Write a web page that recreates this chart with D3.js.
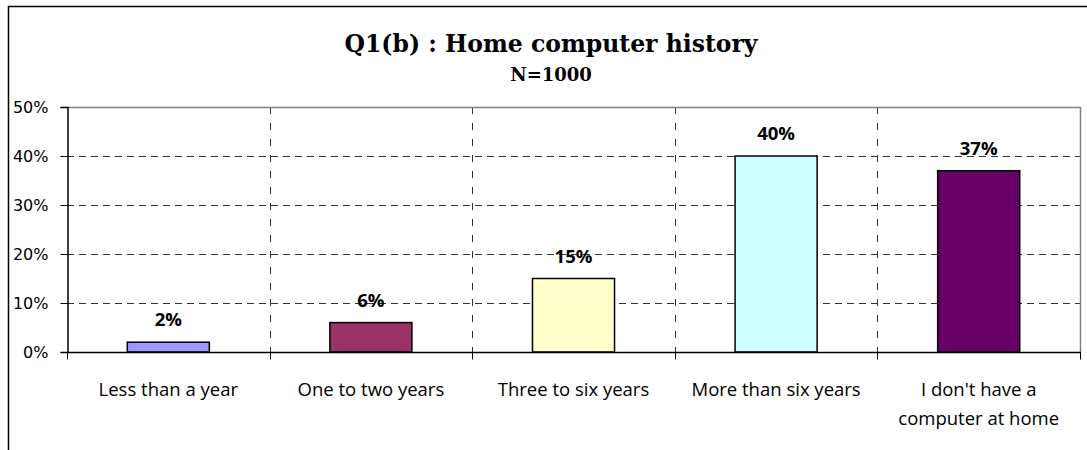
<!DOCTYPE html>
<html>
<head>
<meta charset="utf-8">
<script src="https://cdn.jsdelivr.net/npm/d3@7"></script>
<style>
  body { margin: 0; background: #fff; }
  svg text { fill: #000; }
</style>
</head>
<body>
<div id="chart"></div>
<script>
'use strict'
const categories = [
  ["Less than a year"],
  ["One to two years"],
  ["Three to six years"],
  ["More than six years"],
  ["I don't have a", "computer at home"]
]
const values = [2, 6, 15, 40, 37]
const barColors = ["#9999FF", "#993366", "#FFFFCC", "#CCFFFF", "#660066"]
const yTicks = [0, 10, 20, 30, 40, 50]

const width = 1087, height = 450
const plot = {left: 67, right: 1080, top: 107, bottom: 352}
const sansFont = "'Open Sans', Lato, sans-serif"
const serifFont = "'DejaVu Serif', 'Liberation Serif', serif"

const svg = d3.select("#chart")
  .append("svg")
    .attr("width", width)
    .attr("height", height)

// chart frame
svg.append("rect")
  .attr("x", 8.5).attr("y", 6.5)
  .attr("width", 1100).attr("height", 500)
  .attr("fill", "none").attr("stroke", "#000").attr("stroke-width", 1.5)

const x = d3.scaleBand()
  .domain(d3.range(categories.length))
  .range([plot.left, plot.right])
  .paddingInner(0).paddingOuter(0)
const y = d3.scaleLinear()
  .domain([0, 50])
  .range([plot.bottom, plot.top])

// horizontal grid
svg.append("g")
  .selectAll("line")
  .data(yTicks.filter(d => d > 0 && d < 50))
  .enter()
    .append("line")
    .attr("x1", plot.left).attr("x2", plot.right)
    .attr("y1", d => Math.round(y(d)) + 0.5).attr("y2", d => Math.round(y(d)) + 0.5)
    .attr("stroke", "#333").attr("stroke-dasharray", "7,5")

// vertical grid between categories
svg.append("g")
  .selectAll("line")
  .data(d3.range(1, categories.length))
  .enter()
    .append("line")
    .attr("x1", d => Math.round(x(d)) + 0.5).attr("x2", d => Math.round(x(d)) + 0.5)
    .attr("y1", plot.top).attr("y2", plot.bottom)
    .attr("stroke", "#333").attr("stroke-dasharray", "7,9")

// plot area top and right border
svg.append("path")
  .attr("d", `M${plot.left},${plot.top + 0.5}H${plot.right + 0.5}V${plot.bottom}`)
  .attr("fill", "none").attr("stroke", "#808080").attr("stroke-width", 1.5)

// bars
const barW = x.bandwidth() * 0.405
svg.append("g")
  .selectAll("rect")
  .data(values)
  .enter()
    .append("rect")
    .attr("x", (d, i) => x(i) + (x.bandwidth() - barW) / 2)
    .attr("y", d => y(d))
    .attr("width", barW)
    .attr("height", d => plot.bottom - y(d))
    .attr("fill", (d, i) => barColors[i])
    .attr("stroke", "#000").attr("stroke-width", 1.5)

// value labels
svg.append("g")
  .selectAll("text")
  .data(values)
  .enter()
    .append("text")
    .attr("x", (d, i) => x(i) + x.bandwidth() / 2)
    .attr("y", d => y(d) - 16)
    .attr("text-anchor", "middle")
    .attr("font-family", sansFont)
    .attr("font-weight", "bold")
    .attr("font-size", 18.5)
    .text(d => d + "%")

// y axis
const yAxis = svg.append("g")
  .attr("transform", `translate(${plot.left + 0.5},0)`)
  .call(d3.axisLeft(y).tickValues(yTicks).tickFormat(d => d + "%").tickSize(7).tickPadding(12))
yAxis.select(".domain").attr("stroke", "#000").attr("stroke-width", 1.5)
yAxis.selectAll(".tick line").attr("stroke", "#000")
yAxis.selectAll("text")
  .attr("font-family", "'DejaVu Sans', Verdana, sans-serif")
  .attr("font-size", 16)
  .attr("fill", "#000")

// x axis
const xAxis = svg.append("g")
  .attr("transform", `translate(0,${plot.bottom + 0.5})`)
xAxis.append("line")
  .attr("x1", plot.left).attr("x2", plot.right + 1)
  .attr("stroke", "#000").attr("stroke-width", 1.5)
xAxis.selectAll(".xt")
  .data(d3.range(categories.length + 1))
  .enter()
    .append("line")
    .attr("class", "xt")
    .attr("x1", d => Math.round(d < categories.length ? x(d) : plot.right) + 0.5)
    .attr("x2", d => Math.round(d < categories.length ? x(d) : plot.right) + 0.5)
    .attr("y1", 0).attr("y2", 7)
    .attr("stroke", "#000")

const catText = svg.append("g")
  .selectAll("text")
  .data(categories)
  .enter()
    .append("text")
    .attr("x", (d, i) => x(i) + x.bandwidth() / 2)
    .attr("y", 396)
    .attr("text-anchor", "middle")
    .attr("font-family", sansFont)
    .attr("font-size", 18.5)
catText.selectAll("tspan")
  .data(d => d)
  .enter()
    .append("tspan")
    .attr("x", function(){ return this.parentNode.getAttribute("x") })
    .attr("dy", (d, i) => i === 0 ? 0 : 29)
    .text(d => d)

// titles
svg.append("text")
  .attr("x", 551).attr("y", 52)
  .attr("text-anchor", "middle")
  .attr("font-family", serifFont)
  .attr("font-weight", "bold")
  .attr("font-size", 23.5)
  .text("Q1(b) : Home computer history")
svg.append("text")
  .attr("x", 551).attr("y", 81)
  .attr("text-anchor", "middle")
  .attr("font-family", serifFont)
  .attr("font-weight", "bold")
  .attr("font-size", 18)
  .text("N=1000")
</script>
</body>
</html>
